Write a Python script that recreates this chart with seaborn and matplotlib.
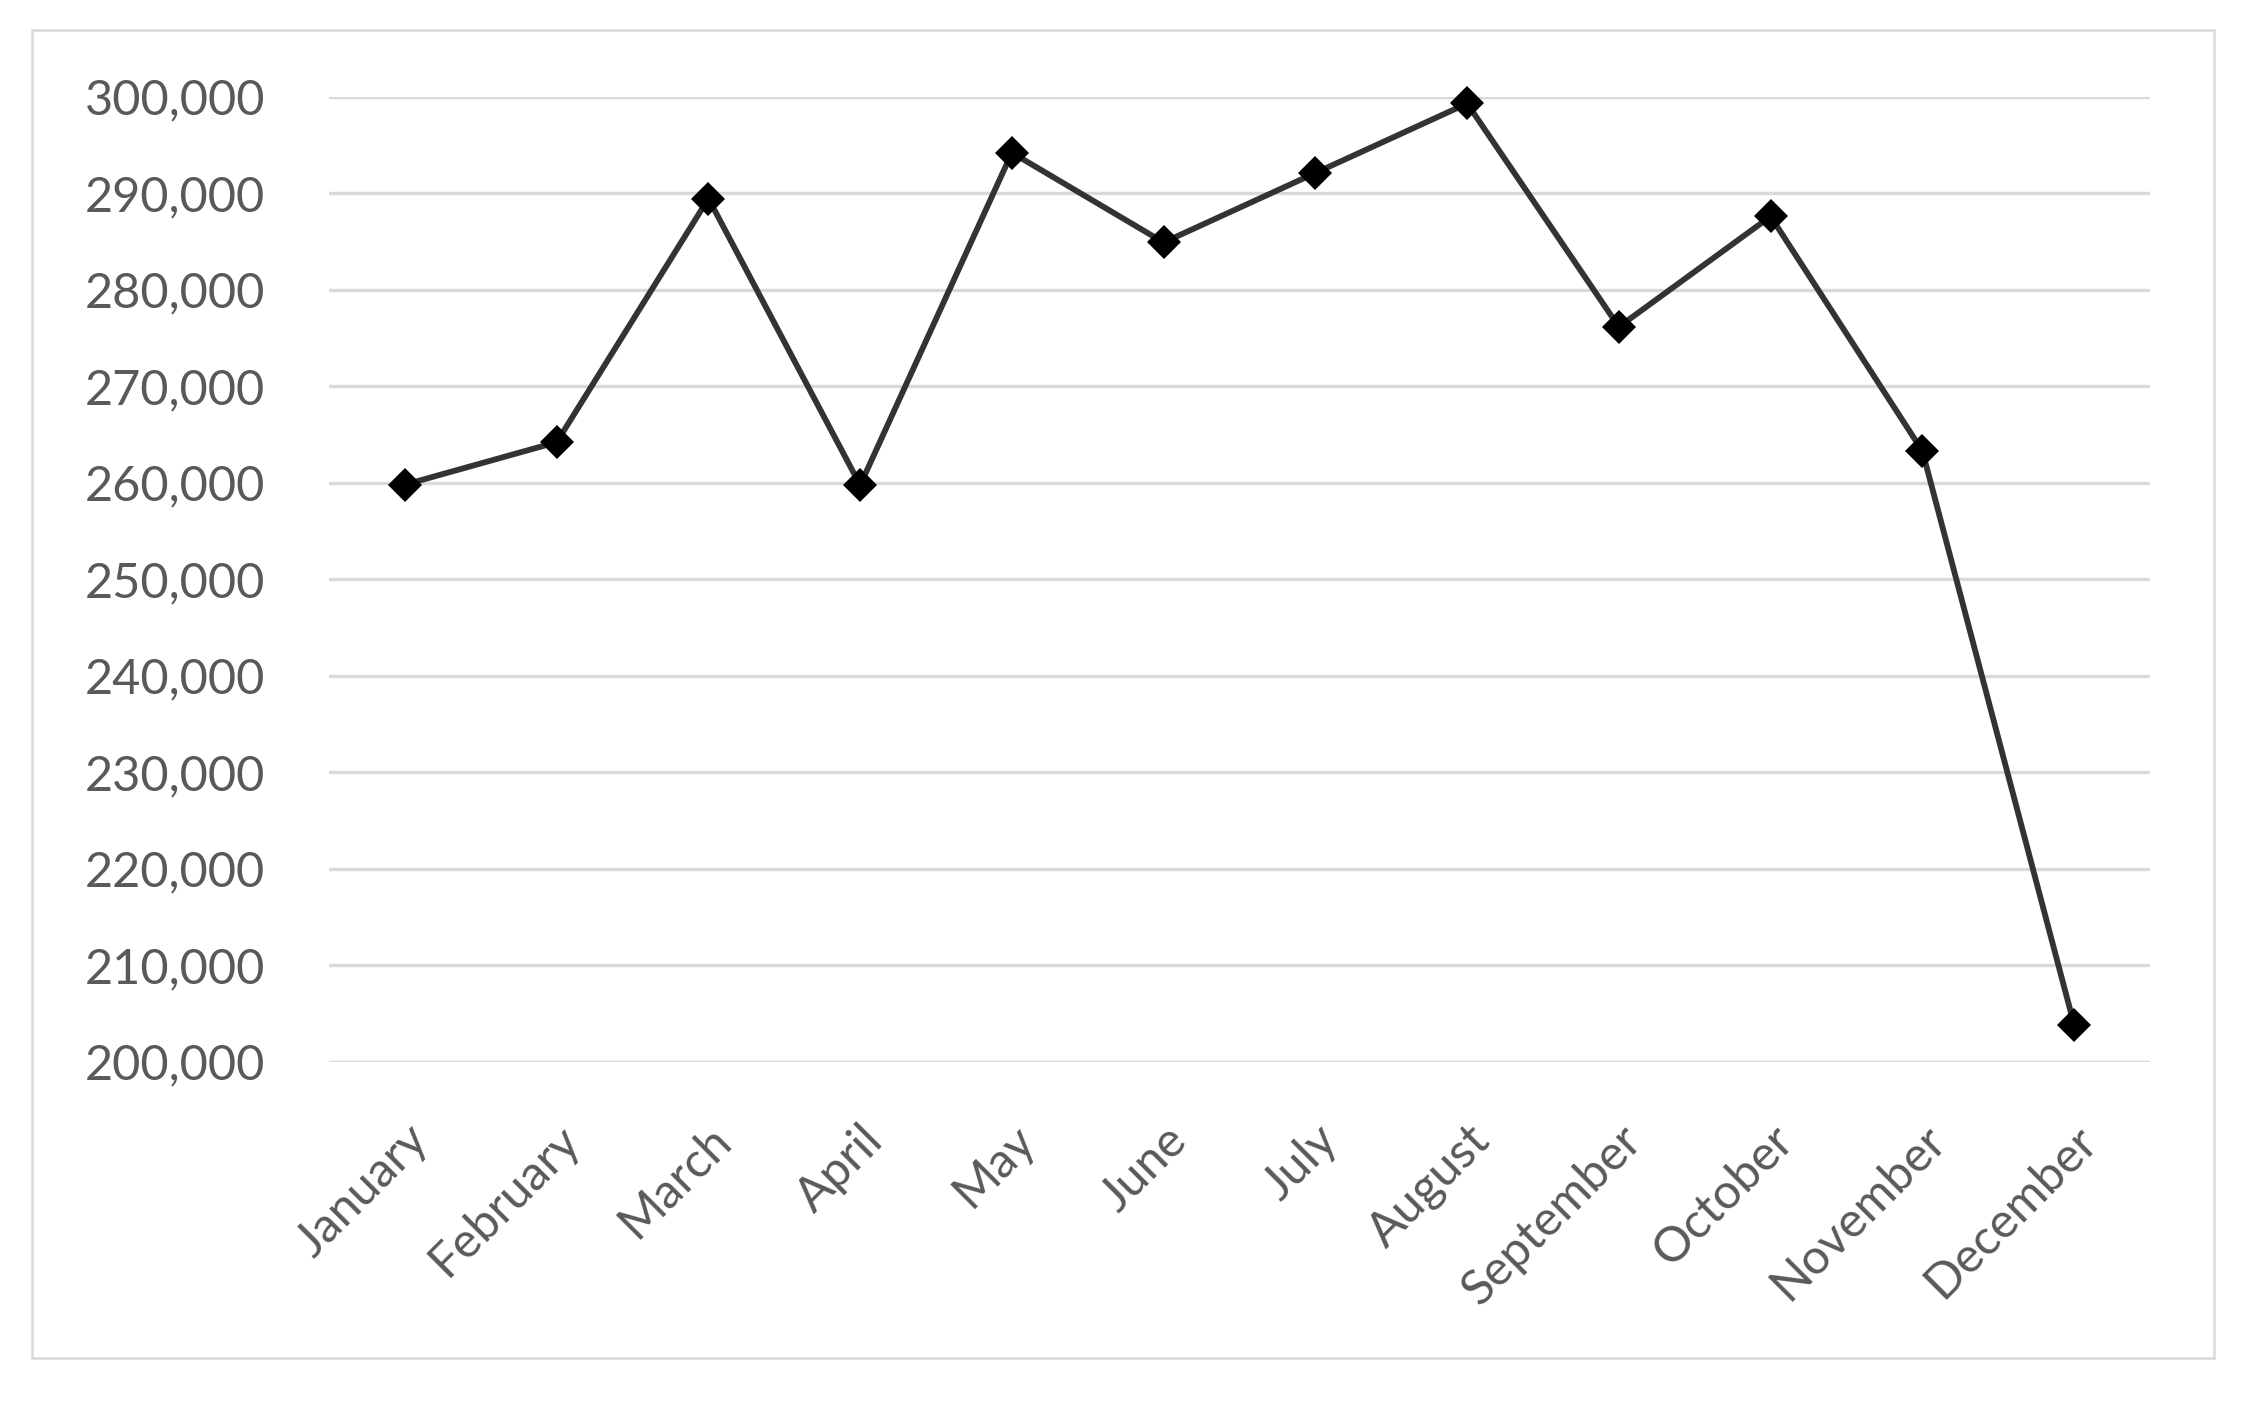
import matplotlib
matplotlib.use("Agg")
import matplotlib.pyplot as plt
import matplotlib.ticker as mticker
import pandas as pd
import seaborn as sns
from matplotlib.patches import Rectangle

# monthly values
months = ['January', 'February', 'March', 'April', 'May', 'June',
          'July', 'August', 'September', 'October', 'November', 'December']
values = [259800, 264200, 289450, 259750, 294200, 284900,
          292100, 299300, 276150, 287600, 263300, 203850]
y_ticks = [200000, 210000, 220000, 230000, 240000, 250000,
           260000, 270000, 280000, 290000, 300000]

df = pd.DataFrame({'month': months, 'value': values})

sns.set_style("white")
plt.rcParams['font.family'] = ['Lato', 'DejaVu Sans']

fig = plt.figure(figsize=(22.65, 14.06), dpi=100)
ax = fig.add_axes([0.1453, 0.2449, 0.9492 - 0.1453, 0.9312 - 0.2449])

# light frame around the whole chart
fig.patches.append(Rectangle((32 / 2265, 1 - 1358 / 1406), (2214 - 32) / 2265, (1358 - 30) / 1406,
                             transform=fig.transFigure, fill=False,
                             edgecolor='#d9d9d9', linewidth=1.8, zorder=0))

sns.lineplot(data=df, x='month', y='value', sort=False, ax=ax,
             color='#333333', linewidth=4.2, marker='D', markersize=17,
             markerfacecolor='black', markeredgecolor='black', markeredgewidth=0,
             clip_on=False)

ax.set_xlim(-0.5, 11.5)
ax.set_ylim(200000, 300000)
ax.set_yticks(y_ticks)
ax.yaxis.set_major_formatter(mticker.StrMethodFormatter('{x:,.0f}'))
ax.grid(axis='y', color='#d9d9d9', linewidth=2.4)
ax.grid(axis='x', visible=False)
ax.set_axisbelow(True)
for s in ax.spines.values():
    s.set_visible(False)

ax.set_xlabel('')
ax.set_ylabel('')
ax.tick_params(axis='y', length=0, pad=46, labelsize=35, labelcolor='#595959')
ax.tick_params(axis='x', length=0, pad=40, labelsize=35, labelcolor='#595959')
plt.setp(ax.get_xticklabels(), rotation=45, ha='right', rotation_mode='anchor')

fig.savefig('out.png', dpi=100)
